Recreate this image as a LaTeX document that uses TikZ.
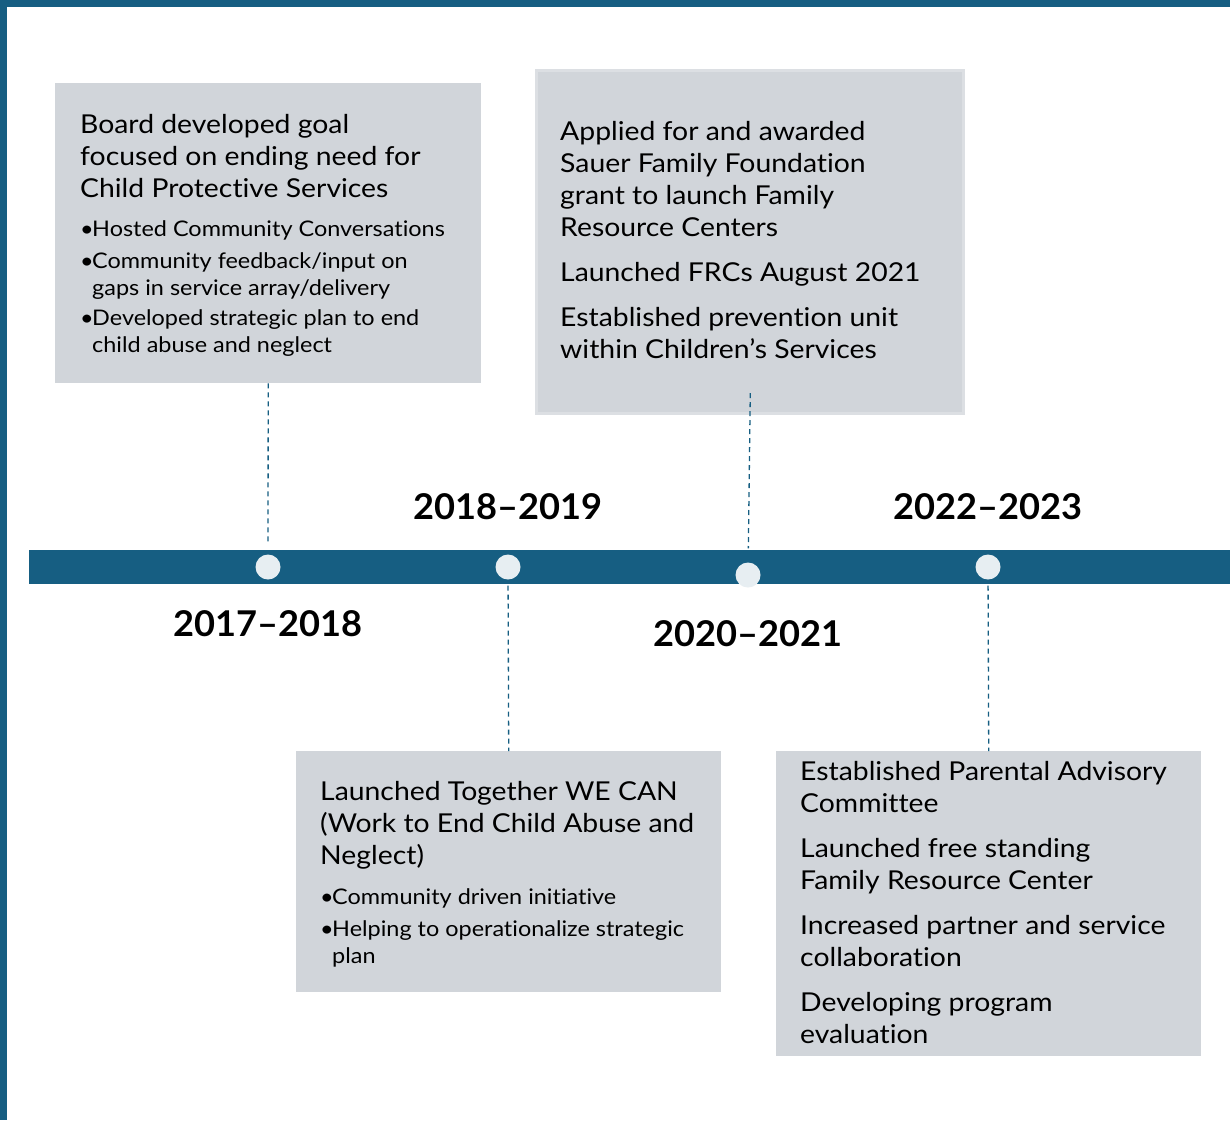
\documentclass[tikz,border=0pt]{standalone}
\usepackage{fontspec}
\setmainfont[FakeStretch=1.09, Ligatures=NoCommon]{Lato}
\newfontfamily\yearfont[FakeStretch=1.02]{Lato}
\definecolor{frame}{HTML}{165E82}
\definecolor{boxgray}{HTML}{D1D5DA}
\definecolor{boxedge}{HTML}{DCDFE3}
\definecolor{dotfill}{HTML}{E7EEF2}
\tikzset{
  box/.style={fill=boxgray, draw=none, anchor=north west, inner sep=0pt},
  dot/.style={circle, fill=dotfill, minimum size=25pt, inner sep=0pt},
  conn/.style={draw=frame, line width=1.3pt, dash pattern=on 5pt off 4pt},
  body/.style={anchor=base west, inner sep=0pt, align=left, font=\fontsize{26}{32}\selectfont, text=black},
  bul/.style={anchor=base west, inner sep=0pt, align=left, font=\fontsize{21.5}{26.5}\selectfont, text=black},
  year/.style={anchor=base, inner sep=0pt, font=\yearfont\fontsize{35.5}{40}\bfseries\selectfont, text=black}
}
\begin{document}
\begin{tikzpicture}[x=1pt,y=-1pt]
\fill[white] (0,0) rectangle (1230,1120);
\useasboundingbox (0,0) rectangle (1230,1120);
% frame
\fill[frame] (0,0) rectangle (1230,7);
\fill[frame] (0,0) rectangle (7,1120);
% timeline bar
\fill[frame] (29,550) rectangle (1230,584);
% dots
\node[dot] (c1) at (268,567) {};
\node[dot] (c2) at (508,567) {};
\node[dot] (c3) at (748,575) {};
\node[dot] (c4) at (988,567) {};
% boxes
\node[box, minimum width=426pt, minimum height=300pt] (b1) at (55,83) {};
\node[box, minimum width=427pt, minimum height=343pt, draw=boxedge, line width=3pt] (b2) at (535,69) {};
\node[box, minimum width=425pt, minimum height=241pt] (b3) at (296,751) {};
\node[box, minimum width=425pt, minimum height=305pt] (b4) at (776,751) {};
% connectors
\draw[conn, shorten >=10pt] (b1.south) -- (c1);
\draw[conn, shorten <=-22pt, shorten >=14pt] (b2.south) -- (c3);
\draw[conn, shorten <=6pt] (c2) -- (b3.north);
\draw[conn, shorten <=6pt] (c4) -- (b4.north);
% years
\node[year] (y1) at (268,636) {2017–2018};
\node[year] (y2) at (508,519) {2018–2019};
\node[year] (y3) at (748,646) {2020–2021};
\node[year] (y4) at (988,519) {2022–2023};
% box 1 text (base anchor = last line)
\node[body] (t1a) at (80,197) {Board developed goal\\focused on ending need for\\Child Protective Services};
\node[bul] (t1b1) at (80,236) {•};
\node[bul] (t1b1t) at (92,236) {Hosted Community Conversations};
\node[bul] (t1b2) at (80,268) {•};
\node[bul] (t1b2t) at (92,295) {Community feedback/input on\\gaps in service array/delivery};
\node[bul] (t1b3) at (80,325) {•};
\node[bul] (t1b3t) at (92,352) {Developed strategic plan to end\\child abuse and neglect};
% box 2 text
\node[body] (t2a) at (560,236) {Applied for and awarded\\Sauer Family Foundation\\grant to launch Family\\Resource Centers};
\node[body] (t2b) at (560,281) {Launched FRCs August 2021};
\node[body] (t2c) at (560,358) {Established prevention unit\\within Children’s Services};
% box 3 text
\node[body] (t3a) at (320,864) {Launched Together WE CAN\\(Work to End Child Abuse and\\Neglect)};
\node[bul] (t3b1) at (320,904) {•};
\node[bul] (t3b1t) at (332,904) {Community driven initiative};
\node[bul] (t3b2) at (320,936) {•};
\node[bul] (t3b2t) at (332,963) {Helping to operationalize strategic\\plan};
% box 4 text
\node[body] (t4a) at (800,812) {Established Parental Advisory\\Committee};
\node[body] (t4b) at (800,889) {Launched free standing\\Family Resource Center};
\node[body] (t4c) at (800,966) {Increased partner and service\\collaboration};
\node[body] (t4d) at (800,1043) {Developing program\\evaluation};
\end{tikzpicture}
\end{document}
